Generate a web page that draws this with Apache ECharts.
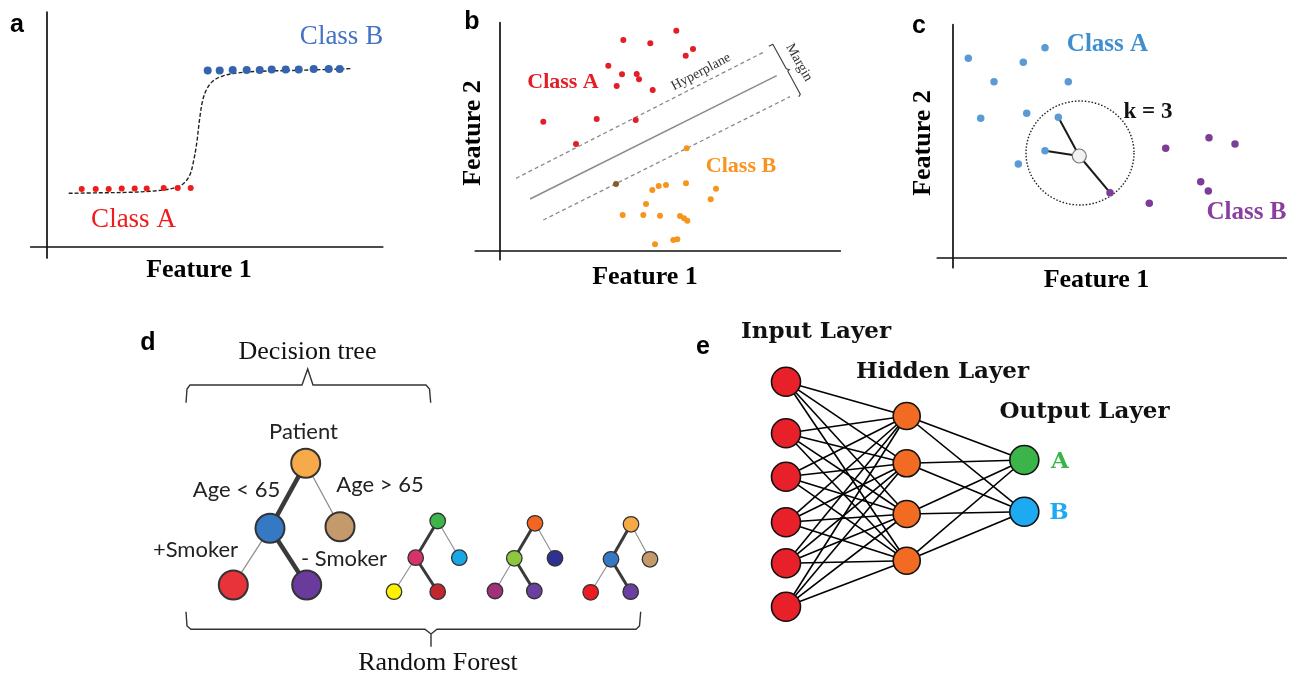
<!DOCTYPE html>
<html><head><meta charset="utf-8">
<script src="https://cdn.jsdelivr.net/npm/echarts@6/dist/echarts.min.js"></script>
<style>html,body{margin:0;padding:0;background:#fff}#c{width:1293px;height:676px}</style>
</head><body><div id="c"></div>
<script>
// ---------- Panel a: logistic regression ----------
const aClassA = [[35,58],[49,58],[62,58],[75,58.5],[88,58.5],[100,58.5],[117,59],[131,59],[144,59]];
const aClassB = [[161,176.5],[173,176.5],[186,177],[200,177],[213,177],[225,177.5],[239,177.5],[252,177.5],[267,178],[282,178],[293,178]];
const aCurve = [[22,53.7],[53,54.2],[83,54.7],[103,55.7],[118,57.2],[128,59.2],[136,62.7],[143,71.7],[147,86.7],[150,103.7],[153,128.7],[156,146.7],[160,157.7],[166,165.7],[175,170.7],[188,173.7],[213,175.7],[253,176.7],[305,178.4]];

// ---------- Panel b: SVM ----------
const bClassA = [[177,220],[124,210.7],[151,207.4],[193.7,201.7],[186.4,195],[109,185],[122.7,176.4],[137.4,176.7],[139.7,171.4],[117.4,164.7],[153.4,160.7],[44,129],[97.4,131.7],[136.4,130.7],[76.7,106.7]];
const bClassB = [[187.4,102.4],[153,60.7],[159.4,64.7],[166.7,65.7],[186.7,67.4],[216.7,62],[211.4,51.4],[146.7,46.7],[123.4,35.7],[144,35.7],[160.7,35],[180.7,34.7],[184.7,32.4],[188,30],[155.7,6.4],[174,10.7],[178,11.4]];
const bSupportB = [[116.7,66.7]];
const bHyperplane = [[30.7,51.7],[277.4,175]];
const bMarginUpper = [[16.7,72.4],[264,198.4]];
const bMarginLower = [[44,30.7],[290.7,154]];
const bMarginBrace = [[269.5,204.5],[273.5,206.5],[287,182],[290,181],[288.5,179.5],[301,156.5],[299.5,154]];

// ---------- Panel c: kNN ----------
const cClassA = [[16,199.4],[92.7,210],[71,195.4],[41.7,176],[116,176],[28.4,139.4],[74.4,144.4],[106,140.4],[92.7,107],[66,93.7]];
const cClassB = [[256.7,120],[282.7,113.7],[213.4,109.4],[248.4,76],[256,66.7],[157.7,65],[197,54.4]];
const cQuery = [[127,101.7]];
const cNeighbourA = [7, 8];
const cNeighbourB = [5];
const cRadiusCentre = [[127.7,104.7]];

// ---------- Panel d: decision tree / random forest ----------
const dTreeMain = [[165.7,153.3],[130,218.3],[200,216.7],[93.3,275],[166.7,275]];
const dTree1 = [[297.7,211],[275.7,247.7],[319.3,247.7],[254,281.7],[297.7,281.7]];
const dTree2 = [[395,213.3],[374.3,248.3],[415,248.3],[355,281],[394.3,281]];
const dTree3 = [[491,214.3],[471,249.3],[510,249.3],[450.7,282.3],[490.7,281.7]];
const dTreeEdges = [[0,1],[0,2],[1,3],[1,4]];
const dMainPathEdges = [0,3];
const dTopBrace = [[46,92.7],[47,79],[50,75],[162,75],[167.7,59],[173,75],[286,75],[289.5,79],[290.7,92.7]];
const dBottomBrace = [[46,301.7],[47,316],[51,319.3],[285,319.3],[291,324],[291,336.7],[291,324],[297,319.3],[496,319.3],[499.5,316],[500.7,301.7]];

// ---------- Panel e: neural network ----------
const eInput = [[96,71.7],[96,123.3],[96,166.7],[96,212.3],[96,253.3],[96,296.7]];
const eHidden = [[216.7,106],[216.7,153.3],[216.7,204],[216.7,250.7]];
const eOutput = [[334.3,150],[334.3,201.7]];

// ---------- styles ----------
const SERIF = "'Liberation Serif','Times New Roman',serif";
const SANS = "'Liberation Sans',Arial,sans-serif";
const LABEL = "Lato,'Open Sans',sans-serif";
const DSERIF = "'DejaVu Serif',serif";
const treeColours = [
  ['#f6aa4a','#3579c4','#c49a6c','#e8333a','#6a3b9c'],
  ['#3db54a','#d6336c','#1aa7e5','#fff200','#c1272d'],
  ['#f26522','#8dc63f','#2e3192','#a3307a','#6b3fa0'],
  ['#f7a945','#3579c4','#c49a6c','#ed1c24','#6b3fa0']
];

function axes(show, xmin, xmax, ymin, ymax, inv, gi) {
  const common = {type:'value', gridIndex: gi, axisTick:{show:false}, axisLabel:{show:false}, splitLine:{show:false},
    axisLine:{show: show, onZero:true, lineStyle:{color:'#111', width:1.7}}};
  return {
    x: Object.assign({}, common, {min:xmin, max:xmax}),
    y: Object.assign({}, common, {min:ymin, max:ymax, inverse: !!inv})
  };
}
const A = [
  axes(true, -16, 336, -11, 235, false, 0),
  axes(true, -24, 341, -9, 228, false, 1),
  axes(true, -15, 334, -10, 233, false, 2),
  axes(false, 0, 560, 0, 366, true, 3),
  axes(false, 0, 560, 0, 366, true, 4)
];

function seg(p, q) { return {coords:[p, q]}; }
function sc(style) { return Object.assign({opacity:1}, style); }
const series = [];
// a
series.push({type:'line', xAxisIndex:0, yAxisIndex:0, data:aCurve, smooth:0.35, symbol:'none', silent:true,
  lineStyle:{color:'#222', width:1.4, type:[4,2]}, z:2});
series.push({type:'scatter', xAxisIndex:0, yAxisIndex:0, data:aClassA, symbolSize:6, itemStyle:sc({color:'#ee1c1c'}), z:3});
series.push({type:'scatter', xAxisIndex:0, yAxisIndex:0, data:aClassB, symbolSize:8, itemStyle:sc({color:'#3563ad'}), z:3});
// b
series.push({type:'lines', coordinateSystem:'cartesian2d', xAxisIndex:1, yAxisIndex:1, silent:true,
  data:[seg(bHyperplane[0], bHyperplane[1])], lineStyle:{color:'#8a8a8a', width:1.5, opacity:1}, z:2});
series.push({type:'lines', coordinateSystem:'cartesian2d', xAxisIndex:1, yAxisIndex:1, silent:true,
  data:[seg(bMarginUpper[0], bMarginUpper[1]), seg(bMarginLower[0], bMarginLower[1])],
  lineStyle:{color:'#8a8a8a', width:1.3, type:[4,3], opacity:1}, z:2});
series.push({type:'lines', coordinateSystem:'cartesian2d', xAxisIndex:1, yAxisIndex:1, polyline:true, silent:true,
  data:[{coords:bMarginBrace}], lineStyle:{color:'#444', width:1.2, opacity:1}, z:2});
series.push({type:'scatter', xAxisIndex:1, yAxisIndex:1, data:bClassA, symbolSize:6, itemStyle:sc({color:'#e41e26'}), z:3});
series.push({type:'scatter', xAxisIndex:1, yAxisIndex:1, data:bClassB, symbolSize:6, itemStyle:sc({color:'#f7941d'}), z:3});
series.push({type:'scatter', xAxisIndex:1, yAxisIndex:1, data:bSupportB, symbolSize:6, itemStyle:sc({color:'#8b5a2b'}), z:3});
// c
const cLines = cNeighbourA.map(i => seg(cQuery[0], cClassA[i])).concat(cNeighbourB.map(i => seg(cQuery[0], cClassB[i])));
series.push({type:'lines', coordinateSystem:'cartesian2d', xAxisIndex:2, yAxisIndex:2, silent:true,
  data:cLines, lineStyle:{color:'#1a1a1a', width:2, opacity:1}, z:2});
series.push({type:'scatter', xAxisIndex:2, yAxisIndex:2, data:cRadiusCentre, symbolSize:[108,104], silent:true,
  itemStyle:sc({color:'rgba(0,0,0,0)', borderColor:'#222', borderWidth:1.4, borderType:[1.5,1.8]}), z:1});
series.push({type:'scatter', xAxisIndex:2, yAxisIndex:2, data:cClassA, symbolSize:7.5, itemStyle:sc({color:'#5b9bd5'}), z:3});
series.push({type:'scatter', xAxisIndex:2, yAxisIndex:2, data:cClassB, symbolSize:7.5, itemStyle:sc({color:'#7d3c98'}), z:3});
series.push({type:'scatter', xAxisIndex:2, yAxisIndex:2, data:cQuery, symbolSize:14,
  itemStyle:sc({color:'#f2f2f2', borderColor:'#777', borderWidth:1.2}), z:4});
// d
[dTreeMain, dTree1, dTree2, dTree3].forEach((nodes, t) => {
  const big = t === 0;
  const thick = [], thin = [];
  dTreeEdges.forEach((e, k) => {
    const s = seg(nodes[e[0]], nodes[e[1]]);
    (dMainPathEdges.indexOf(k) >= 0 ? thick : thin).push(s);
  });
  series.push({type:'lines', coordinateSystem:'cartesian2d', xAxisIndex:3, yAxisIndex:3, silent:true,
    data:thick, lineStyle:{color:'#3a3a3a', width: big ? 4.5 : 3, opacity:1}, z:2});
  series.push({type:'lines', coordinateSystem:'cartesian2d', xAxisIndex:3, yAxisIndex:3, silent:true,
    data:thin, lineStyle:{color:'#8c8c8c', width: big ? 1.3 : 1.1, opacity:1}, z:2});
  series.push({type:'scatter', xAxisIndex:3, yAxisIndex:3, z:3,
    data: nodes.map((p, i) => ({value:p, itemStyle:{color:treeColours[t][i]}})),
    symbolSize: big ? 29 : 15.5, itemStyle:sc({borderColor:'#333', borderWidth: big ? 2 : 1.3})});
});
series.push({type:'lines', coordinateSystem:'cartesian2d', xAxisIndex:3, yAxisIndex:3, polyline:true, silent:true,
  data:[{coords:dTopBrace},{coords:dBottomBrace}], lineStyle:{color:'#333', width:1.4, opacity:1}, z:2});
// e
const eEdges = [];
eInput.forEach(p => eHidden.forEach(q => eEdges.push(seg(p, q))));
eHidden.forEach(p => eOutput.forEach(q => eEdges.push(seg(p, q))));
series.push({type:'lines', coordinateSystem:'cartesian2d', xAxisIndex:4, yAxisIndex:4, silent:true,
  data:eEdges, lineStyle:{color:'#000', width:1.6, opacity:1}, z:2});
series.push({type:'scatter', xAxisIndex:4, yAxisIndex:4, data:eInput, symbolSize:29, z:3,
  itemStyle:sc({color:'#e8202a', borderColor:'#111', borderWidth:1.6})});
series.push({type:'scatter', xAxisIndex:4, yAxisIndex:4, data:eHidden, symbolSize:27, z:3,
  itemStyle:sc({color:'#f26b22', borderColor:'#111', borderWidth:1.6})});
series.push({type:'scatter', xAxisIndex:4, yAxisIndex:4, data:eOutput.slice(0,1), symbolSize:29, z:3,
  itemStyle:sc({color:'#3bb54a', borderColor:'#111', borderWidth:1.6})});
series.push({type:'scatter', xAxisIndex:4, yAxisIndex:4, data:eOutput.slice(1), symbolSize:29, z:3,
  itemStyle:sc({color:'#1eaaf1', borderColor:'#111', borderWidth:1.6})});

function txt(text, x, y, font, fill, rot) {
  return {type:'text', x:x, y:y, rotation: rot || 0, z:100, silent:true,
    style:{text:text, font:font, fill:fill, align:'center', verticalAlign:'middle', textAlign:'center', textVerticalAlign:'middle'}};
}
const graphics = [
  txt('a', 17, 25, 'bold 25px ' + SANS, '#000'),
  txt('b', 472, 22, 'bold 25px ' + SANS, '#000'),
  txt('c', 919, 26, 'bold 25px ' + SANS, '#000'),
  txt('d', 148, 343, 'bold 25px ' + SANS, '#000'),
  txt('e', 703, 347, 'bold 25px ' + SANS, '#000'),
  // a
  txt('Class B', 341.5, 37, '27px ' + SERIF, '#4472c4'),
  txt('Class A', 133.5, 220, '27px ' + SERIF, '#ee1c1c'),
  txt('Feature 1', 199, 270, 'bold 26px ' + SERIF, '#000'),
  // b
  txt('Class A', 563, 82, 'bold 22px ' + SERIF, '#e41e26'),
  txt('Class B', 741, 166, 'bold 22px ' + SERIF, '#f7931e'),
  txt('Feature 2', 473, 133, 'bold 26px ' + SERIF, '#000', Math.PI/2),
  txt('Feature 1', 645, 277, 'bold 26px ' + SERIF, '#000'),
  txt('Hyperplane', 701, 72, '14px ' + SERIF, '#333', 0.49),
  txt('Margin', 799, 62.5, '14px ' + SERIF, '#333', -1.056),
  // c
  txt('Class A', 1107.5, 45, 'bold 25px ' + SERIF, '#3f8fd0'),
  txt('Class B', 1246.5, 213, 'bold 25px ' + SERIF, '#8a3fa0'),
  txt('k = 3', 1148, 112, 'bold 23px ' + SERIF, '#111'),
  txt('Feature 2', 923, 143, 'bold 26px ' + SERIF, '#000', Math.PI/2),
  txt('Feature 1', 1096.5, 280, 'bold 26px ' + SERIF, '#000'),
  // d
  txt('Decision tree', 307.5, 352, '26px ' + SERIF, '#111'),
  txt('Random Forest', 438, 663, '26px ' + SERIF, '#111'),
  txt('Patient', 303.5, 432, '22px ' + LABEL, '#222'),
  txt('Age < 65', 236.5, 490, '22px ' + LABEL, '#222'),
  txt('Age > 65', 380, 485, '22px ' + LABEL, '#222'),
  txt('+Smoker', 195.5, 550, '22px ' + LABEL, '#222'),
  txt('- Smoker', 344, 558.5, '22px ' + LABEL, '#222'),
  // e
  txt('Input Layer', 816, 332, 'bold 23px ' + DSERIF, '#111'),
  txt('Hidden Layer', 942.5, 372, 'bold 23px ' + DSERIF, '#111'),
  txt('Output Layer', 1084.5, 412, 'bold 23px ' + DSERIF, '#111'),
  txt('A', 1060, 462, 'bold 23px ' + DSERIF, '#3bb54a'),
  txt('B', 1059, 513.5, 'bold 23px ' + DSERIF, '#1eaaf1')
];

const chart = echarts.init(document.getElementById('c'), null, {renderer:'canvas'});
chart.setOption({
  backgroundColor:'#fff',
  animation:false,
  grid:[
    {left:30.7, top:12, width:352, height:246},
    {left:475.3, top:22.7, width:365, height:237},
    {left:937.3, top:24.7, width:349, height:243},
    {left:140, top:310, width:560, height:366},
    {left:690, top:310, width:560, height:366}
  ],
  xAxis: A.map(p => p.x),
  yAxis: A.map(p => p.y),
  series: series,
  graphic: graphics
});
</script></body></html>
